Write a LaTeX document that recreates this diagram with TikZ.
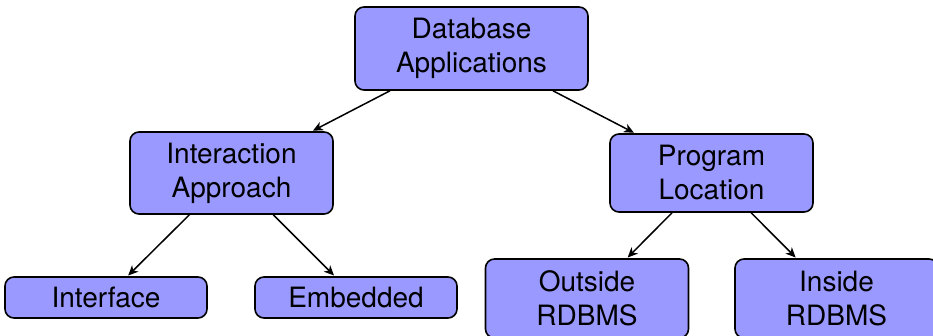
\documentclass[tikz,border=0pt]{standalone}
\usepackage{fontspec}
\setmainfont{TeX Gyre Heros}
\usetikzlibrary{arrows.meta}
\definecolor{boxfill}{HTML}{9999FF}
\tikzset{
  box/.style={draw=black, line width=1.6pt, fill=boxfill, rounded corners=9pt,
    align=center, inner sep=0pt, minimum width=203pt,
    font=\fontsize{28}{34}\selectfont},
  conn/.style={line width=1.5pt, -{Stealth[length=10pt,width=9pt,inset=3pt]}, shorten >=1pt}
}
\begin{document}
\begin{tikzpicture}[x=1pt,y=-1pt]
\useasboundingbox (0,0) rectangle (933,336);
\clip (0,0) rectangle (933,336);
\node[box, minimum width=233pt, minimum height=83pt] (db) at (471.5,48.5) {Database\\Applications};
\node[box, minimum height=82pt] (ia) at (231.5,173) {Interaction\\Approach};
\node[box, minimum height=78pt] (pl) at (711.5,173) {Program\\Location};
\node[box, minimum width=202pt, minimum height=41pt] (if) at (106,297.5) {Interface};
\node[box, minimum width=202pt, minimum height=41pt] (em) at (356,297.5) {Embedded};
\node[box, minimum height=79pt] (out) at (587,298.5) {Outside\\RDBMS};
\node[box, minimum height=79pt] (in) at (836.5,298.5) {Inside\\RDBMS};
\draw[conn] (db) -- (ia);
\draw[conn] (db) -- (pl);
\draw[conn] (ia) -- (if);
\draw[conn] (ia) -- (em);
\draw[conn] (pl) -- (out);
\draw[conn] (pl) -- (in);
\end{tikzpicture}
\end{document}
